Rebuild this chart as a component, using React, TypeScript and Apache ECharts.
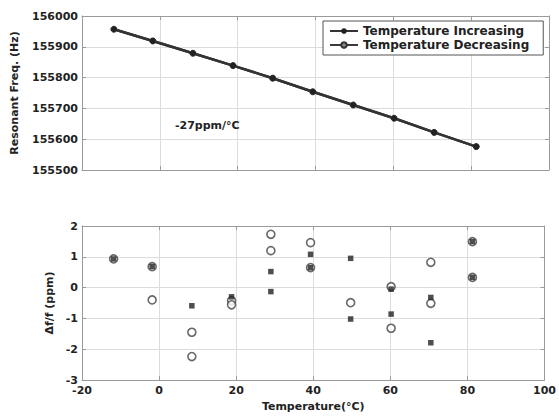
import React, { useEffect, useRef } from "react";
import * as echarts from "echarts";

const temps = [-11.8, -1.8, 8.5, 18.8, 29, 39.3, 49.7, 60.2, 70.5, 81.3];
const freqIncreasing = [155957, 155919, 155879, 155839, 155798, 155754, 155711, 155668, 155622, 155576];
const freqDecreasing = [155957, 155919, 155879, 155839, 155798, 155754, 155711, 155668, 155622, 155576];

// residuals (ppm): asterisk markers
const residStarX = [-11.8, -1.8, 8.5, 18.8, 29, 29, 39.3, 39.3, 49.7, 49.7, 60.2, 60.2, 70.5, 70.5, 81.3, 81.3];
const residStarY = [0.93, 0.68, -0.59, -0.3, 0.52, -0.13, 1.08, 0.65, 0.95, -1.02, -0.05, -0.86, -0.32, -1.79, 1.49, 0.33];
// residuals (ppm): circle markers
const residCircX = [-11.8, -1.8, -1.8, 8.5, 8.5, 18.8, 18.8, 29, 29, 39.3, 39.3, 49.7, 60.2, 60.2, 70.5, 70.5, 81.3, 81.3];
const residCircY = [0.93, 0.68, -0.4, -1.45, -2.24, -0.42, -0.56, 1.73, 1.2, 1.46, 0.65, -0.49, 0.03, -1.32, 0.82, -0.51, 1.49, 0.33];

const FONT = "DejaVu Sans";
const TXT = "#222";
const GRIDC = "#dcdcdc";
const FRAME = "#9a9a9a";

export default function App() {
  const ref = useRef<HTMLDivElement>(null);
  useEffect(() => {
    if (!ref.current) return;
    const chart = echarts.init(ref.current, undefined, { renderer: "svg" });
    const labelStyle = { fontFamily: FONT, fontWeight: "bold" as const, fontSize: 11, color: TXT };
    const mainX = (gridIndex: number, showLabels: boolean, name: string) => ({
      type: "value",
      gridIndex,
      min: -20,
      max: 100,
      interval: 20,
      position: "bottom",
      name,
      nameLocation: "middle",
      nameGap: 21,
      nameTextStyle: { fontFamily: FONT, fontWeight: "bold", fontSize: 11, color: TXT },
      axisLine: { show: true, onZero: false, lineStyle: { color: FRAME, width: 1 } },
      axisTick: { show: true, inside: true, length: 4, lineStyle: { color: FRAME } },
      axisLabel: { show: showLabels, ...labelStyle, margin: 5 },
      splitLine: { show: true, lineStyle: { color: GRIDC, width: 1 } },
    });
    const topX = (gridIndex: number) => ({
      type: "value",
      gridIndex,
      min: -20,
      max: 100,
      interval: 20,
      position: "top",
      axisLine: { show: true, onZero: false, lineStyle: { color: FRAME, width: 1 } },
      axisTick: { show: true, inside: true, length: 4, lineStyle: { color: FRAME } },
      axisLabel: { show: false },
      splitLine: { show: false },
    });
    const rightY = (gridIndex: number, min: number, max: number, interval: number) => ({
      type: "value",
      gridIndex,
      min,
      max,
      interval,
      position: "right",
      axisLine: { show: true, onZero: false, lineStyle: { color: FRAME, width: 1 } },
      axisTick: { show: true, inside: true, length: 4, lineStyle: { color: FRAME } },
      axisLabel: { show: false },
      splitLine: { show: false },
    });
    chart.setOption({
      animation: false,
      backgroundColor: "#fff",
      grid: [
        { left: 82, top: 16, width: 467, height: 154 },
        { left: 82, top: 226, width: 467, height: 154 },
      ],
      xAxis: [mainX(0, false, ""), mainX(1, true, "Temperature(°C)"), topX(0), topX(1)],
      yAxis: [
        {
          type: "value",
          gridIndex: 0,
          position: "left",
          min: 155500,
          max: 156000,
          interval: 100,
          name: "Resonant Freq. (Hz)",
          nameLocation: "middle",
          nameGap: 62,
          nameTextStyle: { fontFamily: FONT, fontWeight: "bold", fontSize: 11, color: TXT },
          axisLine: { show: true, onZero: false, lineStyle: { color: FRAME } },
          axisTick: { show: true, inside: true, length: 4, lineStyle: { color: FRAME } },
          axisLabel: { ...labelStyle, margin: 4, formatter: (v: number) => String(v) },
          splitLine: { show: true, lineStyle: { color: GRIDC } },
        },
        {
          type: "value",
          gridIndex: 1,
          position: "left",
          min: -3,
          max: 2,
          interval: 1,
          name: "Δf/f (ppm)",
          nameLocation: "middle",
          nameGap: 22,
          nameTextStyle: { fontFamily: FONT, fontWeight: "bold", fontSize: 11, color: TXT },
          axisLine: { show: true, onZero: false, lineStyle: { color: FRAME } },
          axisTick: { show: true, inside: true, length: 4, lineStyle: { color: FRAME } },
          axisLabel: { ...labelStyle, margin: 4 },
          splitLine: { show: true, lineStyle: { color: GRIDC } },
        },
        rightY(0, 155500, 156000, 100),
        rightY(1, -3, 2, 1),
      ],
      legend: {
        orient: "vertical",
        left: 323,
        top: 21,
        padding: [4, 14, 4, 6],
        itemGap: 2,
        itemWidth: 28,
        itemHeight: 7,
        borderColor: "#555",
        borderWidth: 1,
        backgroundColor: "#fff",
        textStyle: { fontFamily: FONT, fontWeight: "bold", fontSize: 12, color: TXT },
        data: ["Temperature Increasing", "Temperature Decreasing"],
      },
      graphic: [
        {
          type: "text",
          left: 175,
          top: 120,
          z: 100,
          style: { text: "-27ppm/°C", font: `bold 11px "${FONT}"`, fill: TXT },
        },
      ],
      series: [
        {
          name: "Temperature Decreasing",
          type: "line",
          xAxisIndex: 0,
          yAxisIndex: 0,
          data: temps.map((t, i) => [t, freqDecreasing[i]]),
          symbol: "circle",
          symbolSize: 6,
          lineStyle: { color: "#3a3a3a", width: 2.5 },
          itemStyle: { color: "#888", borderColor: "#333", borderWidth: 1 },
        },
        {
          name: "Temperature Increasing",
          type: "line",
          xAxisIndex: 0,
          yAxisIndex: 0,
          data: temps.map((t, i) => [t, freqIncreasing[i]]),
          symbol: "circle",
          symbolSize: 6,
          lineStyle: { color: "#333", width: 2.5 },
          itemStyle: { color: "#222" },
        },
        {
          name: "Δf/f circles",
          type: "scatter",
          xAxisIndex: 1,
          yAxisIndex: 1,
          data: residCircX.map((x, i) => [x, residCircY[i]]),
          symbol: "circle",
          symbolSize: 8,
          itemStyle: { color: "#fff", borderColor: "#444", borderWidth: 1.6 },
        },
        {
          name: "Δf/f asterisks",
          type: "scatter",
          xAxisIndex: 1,
          yAxisIndex: 1,
          data: residStarX.map((x, i) => [x, residStarY[i]]),
          symbol: "rect",
          symbolSize: 5.5,
          itemStyle: { color: "#222" },
        },
      ],
    });
    return () => chart.dispose();
  }, []);
  return (
    <div
      ref={ref}
      style={{ position: "fixed", left: 0, top: 0, width: 559, height: 417, background: "#fff" }}
    />
  );
}
